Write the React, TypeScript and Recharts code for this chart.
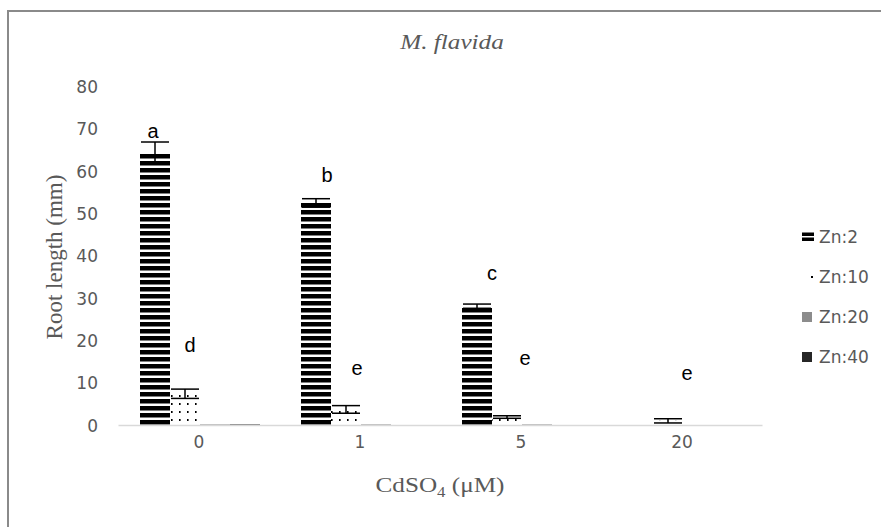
import React from 'react';
import { ComposedChart, Bar, Scatter, XAxis, YAxis, ErrorBar } from 'recharts';

// CdSO4 concentrations (µM)
const categories = ['0', '1', '5', '20'];

// root length (mm) per Zn level
const zn2 = [64.5, 52.6, 28.2, 0];
const zn2Err = [2.5, 1.0, 0.5, null];
const zn10 = [7.5, 3.8, 2.0, 1.1];
const zn10Err = [1.1, 0.9, 0.3, 0.5];
const zn20 = [0.25, 0.25, 0.25, 0];
const zn40 = [0.25, 0, 0, 0];

// significance letters and the height (mm) they sit at
const letterHi = ['a', 'b', 'c', ''];
const letterHiAt = [69.6, 59.2, 36.0, null];
const letterLo = ['d', 'e', 'e', 'e'];
const letterLoAt = [19.0, 13.6, 16.0, 12.4];

const yTicks = [0, 10, 20, 30, 40, 50, 60, 70, 80];

const seriesKeys = ['zn2', 'zn10', 'zn20', 'zn40'];
const seriesNames = ['Zn:2', 'Zn:10', 'Zn:20', 'Zn:40'];

// horizontal nudge of each letter from its category centre (px)
const hiShift = [-46, -33, -29, 0];
const loShift = [-9, -3, 4, 5];

const data = categories.map((c, i) => ({
  cd: c,
  zn2: zn2[i],
  zn2Err: zn2Err[i],
  zn10: zn10[i],
  zn10Err: zn10Err[i],
  zn20: zn20[i],
  zn40: zn40[i],
  hi: letterHiAt[i],
  lo: letterLoAt[i],
}));

const GREY_TEXT = '#595959';
const SANS = '"DejaVu Sans", sans-serif';
const SERIF = '"Liberation Serif", "Times New Roman", serif';

const makeLetter = (texts: string[], shifts: number[]) => (props: any) => {
  const { cx, cy, index } = props;
  if (cx == null || cy == null || isNaN(cy) || !texts[index]) return <g />;
  return (
    <text
      x={cx + shifts[index]}
      y={cy}
      textAnchor="middle"
      dominantBaseline="central"
      fontFamily='"Liberation Sans", Arial, sans-serif'
      fontSize={20}
      fill="#000"
    >
      {texts[index]}
    </text>
  );
};

const legendIcon = (key: string) => {
  if (key === 'zn2') {
    return (
      <svg width={12} height={10}>
        <rect x={0} y={0.5} width={12} height={3.5} fill="#000" />
        <rect x={0} y={5.5} width={12} height={3.5} fill="#000" />
      </svg>
    );
  }
  if (key === 'zn10') {
    return (
      <svg width={12} height={10}>
        <rect x={9} y={4} width={2} height={2} fill="#000" />
      </svg>
    );
  }
  return (
    <svg width={12} height={10}>
      <rect x={0} y={0} width={10} height={10} fill={key === 'zn20' ? '#8c8c8c' : '#262626'} />
    </svg>
  );
};

export default function App() {
  return (
    <div style={{ position: 'absolute', left: 0, top: 0, width: 881, height: 527, background: '#fff' }}>
      <svg width={0} height={0} style={{ position: 'absolute' }}>
        <defs>
          <pattern id="stripes" patternUnits="userSpaceOnUse" width={8} height={7}>
            <rect x={0} y={0} width={8} height={4.5} fill="#000" />
          </pattern>
          <pattern id="dots" patternUnits="userSpaceOnUse" width={8} height={8}>
            <rect x={3} y={3} width={1.6} height={2} fill="#000" />
          </pattern>
        </defs>
      </svg>

      {/* frame */}
      <div
        style={{
          position: 'absolute',
          left: 7,
          top: 10,
          width: 874,
          height: 517,
          borderLeft: '2px solid #8a8a8a',
          borderTop: '2px solid #8a8a8a',
        }}
      />

      <ComposedChart
        width={881}
        height={527}
        data={data}
        margin={{ top: 87, right: 118.5, bottom: 71.5, left: 0 }}
        barGap={0}
        barCategoryGap={21.5}
      >
        <XAxis
          dataKey="cd"
          height={30}
          tickLine={false}
          axisLine={{ stroke: '#d9d9d9', strokeWidth: 1.5 }}
          tick={{ fill: GREY_TEXT, fontFamily: SANS, fontSize: 17 }}
          tickMargin={4}
        />
        <YAxis
          width={118.5}
          domain={[0, 80]}
          ticks={yTicks}
          tickLine={false}
          axisLine={false}
          tick={{ fill: GREY_TEXT, fontFamily: SANS, fontSize: 17 }}
          tickMargin={14.5}
          interval={0}
        />
        <Bar dataKey="zn2" name="Zn:2" fill="url(#stripes)" isAnimationActive={false}>
          <ErrorBar dataKey="zn2Err" width={14} stroke="#000" strokeWidth={1.5} />
        </Bar>
        <Bar dataKey="zn10" name="Zn:10" fill="url(#dots)" isAnimationActive={false}>
          <ErrorBar dataKey="zn10Err" width={14} stroke="#000" strokeWidth={1.5} />
        </Bar>
        <Bar dataKey="zn20" name="Zn:20" fill="#8c8c8c" isAnimationActive={false} />
        <Bar dataKey="zn40" name="Zn:40" fill="#262626" isAnimationActive={false} />
        <Scatter dataKey="hi" legendType="none" isAnimationActive={false} shape={makeLetter(letterHi, hiShift)} />
        <Scatter dataKey="lo" legendType="none" isAnimationActive={false} shape={makeLetter(letterLo, loShift)} />
      </ComposedChart>

      {/* legend */}
      <div style={{ position: 'absolute', left: 802, top: 217 }}>
        {seriesKeys.map((k, i) => (
          <div
            key={k}
            style={{ display: 'flex', alignItems: 'center', height: 40, fontFamily: SANS, fontSize: 17, color: GREY_TEXT }}
          >
            <span style={{ width: 17, display: 'inline-flex' }}>{legendIcon(k)}</span>
            <span>{seriesNames[i]}</span>
          </div>
        ))}
      </div>

      {/* title and axis titles */}
      <div
        style={{
          position: 'absolute',
          left: 452,
          top: 42,
          transform: 'translate(-50%, -50%) scaleX(1.2)',
          fontFamily: SERIF,
          fontStyle: 'italic',
          fontSize: 21,
          color: GREY_TEXT,
          whiteSpace: 'nowrap',
        }}
      >
        M. flavida
      </div>
      <div
        style={{
          position: 'absolute',
          left: 440,
          top: 487,
          transform: 'translate(-50%, -50%) scaleX(1.2)',
          fontFamily: SERIF,
          fontSize: 21,
          color: GREY_TEXT,
          whiteSpace: 'nowrap',
        }}
      >
        CdSO<sub style={{ fontSize: 14 }}>4</sub> (μM)
      </div>
      <div
        style={{
          position: 'absolute',
          left: 55,
          top: 257,
          transform: 'translate(-50%, -50%) rotate(-90deg)',
          fontFamily: SERIF,
          fontSize: 23,
          color: GREY_TEXT,
          whiteSpace: 'nowrap',
        }}
      >
        Root length (mm)
      </div>
    </div>
  );
}
